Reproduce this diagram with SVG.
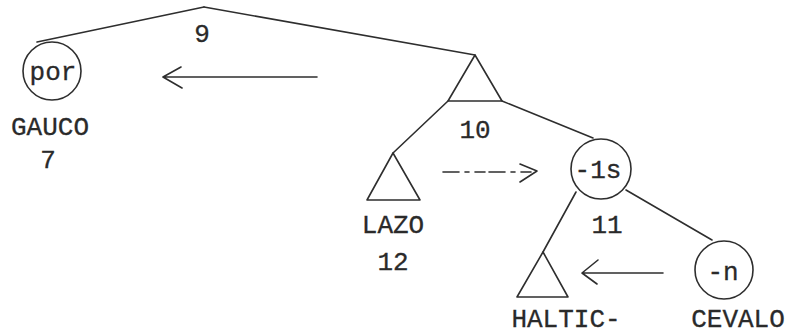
<svg xmlns="http://www.w3.org/2000/svg" width="792" height="336" viewBox="0 0 792 336">
<style>
.t{font-family:"Liberation Mono","Courier New",monospace;font-size:26px;fill:#2a2a2a;text-anchor:middle;stroke:#2a2a2a;stroke-width:0.3}
.s{fill:none;stroke:#2e2e2e;stroke-width:1.6;stroke-linecap:round;stroke-linejoin:round}
.n{fill:#fff;stroke:#2e2e2e;stroke-width:1.6}
</style>
<rect width="792" height="336" fill="#fff"/>
<g id="connectors">
<path class="s" d="M204 7 L37 42"/>
<path class="s" d="M204 7 L475 55"/>
<path class="s" d="M448 101 L393 153"/>
<path class="s" d="M502 101 L593 138"/>
<path class="s" d="M576 192 L543 252"/>
<path class="s" d="M626 190 L712 240"/>
<g id="arrow-top">
<path class="s" d="M317 77 L163 77 M181 67 L163 77 L182 88"/>
</g>
<g id="arrow-mid">
<path class="s" d="M443 172 L535 172" stroke-dasharray="16 6 4 6 10 4"/>
<path class="s" d="M520 164 L537 171 L520 182"/>
</g>
<g id="arrow-bottom">
<path class="s" d="M663 273 L582 273 M598 260 L582 273 L597 284"/>
</g>
</g>
<g id="node-9">
<text class="t" x="202" y="42">9</text>
</g>
<g id="node-por">
<circle class="n" cx="52" cy="71" r="29"/>
<text class="t" x="53" y="80">por</text>
<text class="t" x="50" y="135">GAUCO</text>
<text class="t" x="48" y="168">7</text>
</g>
<g id="node-10">
<path class="s" d="M475 55 L448 101 L502 101 Z"/>
<text class="t" x="475" y="138">10</text>
</g>
<g id="node-lazo">
<path class="s" d="M393 153 L367 200 L420 200 Z"/>
<text class="t" x="393" y="233">LAZO</text>
<text class="t" x="393" y="270">12</text>
</g>
<g id="node-1s">
<circle class="n" cx="601" cy="169" r="30"/>
<text class="t" x="598" y="178">-1s</text>
<text class="t" x="607" y="233">11</text>
</g>
<g id="node-haltic">
<path class="s" d="M543 252 L517 297 L568 297 Z"/>
<text class="t" x="566" y="327">HALTIC-</text>
</g>
<g id="node-n">
<circle class="n" cx="724" cy="270" r="29"/>
<text class="t" x="723" y="280">-n</text>
<text class="t" x="738" y="327">CEVALO</text>
</g>
</svg>
